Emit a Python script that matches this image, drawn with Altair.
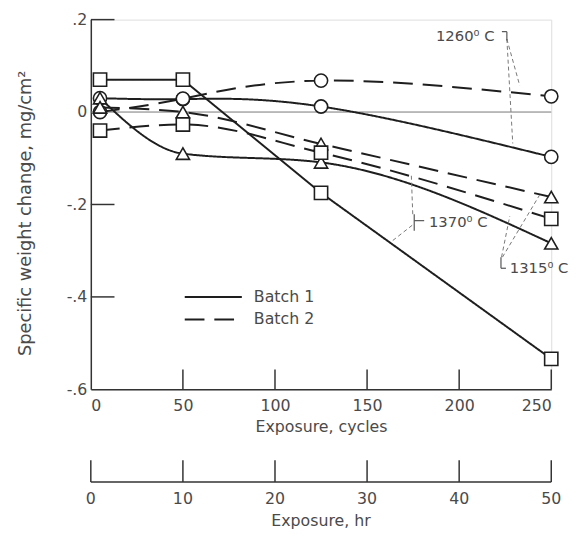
import altair as alt
import pandas as pd

# ---- data ----
cycles = [5, 50, 125, 250]
b1_1260 = [0.03, 0.028, 0.012, -0.097]
b2_1260 = [0.0, 0.029, 0.068, 0.034]
b1_1315 = [0.03, -0.09, -0.109, -0.284]
b2_1315 = [0.01, 0.0, -0.069, -0.184]
b1_1370 = [0.07, 0.07, -0.175, -0.534]
b2_1370 = [-0.04, -0.027, -0.088, -0.231]

batches = ["Batch 1", "Batch 2"]
temps = ["1260", "1315", "1370"]

y_ticks = [0.2, 0.0, -0.2, -0.4, -0.6]
y_inner_ticks = [0.2, -0.2, -0.4]
x_ticks = [0, 50, 100, 150, 200, 250]
x_inner_ticks = [50, 100, 150, 200, 250]
hr_ticks = [0, 10, 20, 30, 40, 50]

ann_text = ["1260\u2070 C", "1370\u2070 C", "1315\u2070 C"]
ann_x = [187.4, 183.6, 227.5]
ann_y = [0.164, -0.237, -0.338]

# leader lines (x, y, x2, y2)
lead_x = [225.9, 225.9, 174.8, 174.5, 223.0, 223.5]
lead_y = [0.158, 0.158, -0.221, -0.245, -0.314, -0.314]
lead_x2 = [232.9, 229.1, 174.0, 163.3, 227.5, 243.6]
lead_y2 = [0.057, -0.068, -0.134, -0.280, -0.225, -0.180]

stub_x = [223.2, 225.9, 175.6, 175.6, 222.7, 222.7]
stub_y = [0.174, 0.174, -0.221, -0.235, -0.314, -0.338]
stub_x2 = [225.9, 225.9, 175.6, 181.0, 222.7, 225.4]
stub_y2 = [0.174, 0.155, -0.257, -0.235, -0.338, -0.338]

# legend placement (data units)
leg_x = [51.0, 51.0]
leg_x2 = [82.0, 82.0]
leg_y = [-0.400, -0.449]
leg_tx = [88.5, 88.5]

# ---- build tables ----
series = {
    ("Batch 1", "1260"): b1_1260,
    ("Batch 2", "1260"): b2_1260,
    ("Batch 1", "1315"): b1_1315,
    ("Batch 2", "1315"): b2_1315,
    ("Batch 1", "1370"): b1_1370,
    ("Batch 2", "1370"): b2_1370,
}
rows = []
for (b, t), vals in series.items():
    for c, v in zip(cycles, vals):
        rows.append({"cycles": c, "value": v, "batch": b, "temp": t, "series": b + " " + t})
df = pd.DataFrame(rows)

FONT = "DejaVu Sans"
TXT = "#4a4a4a"
INK = "#1e1e1e"

x_scale = alt.Scale(domain=[0, 250], nice=False, zero=False)
y_scale = alt.Scale(domain=[-0.6, 0.2], nice=False, zero=False)

X = alt.X("cycles:Q", scale=x_scale,
          axis=alt.Axis(values=x_ticks, tickSize=0, grid=False, domainColor="#333",
                        domainWidth=1.5, labelPadding=8, labelFontSize=16, labelFont=FONT,
                        labelColor=TXT, title="Exposure, cycles", titleFontSize=16,
                        titleFont=FONT, titleColor=TXT, titleFontWeight="normal",
                        titlePadding=6))
Y = alt.Y("value:Q", scale=y_scale,
          axis=alt.Axis(values=y_ticks, tickSize=0, grid=False, domainColor="#333",
                        domainWidth=1.5, labelPadding=4, labelFontSize=16, labelFont=FONT,
                        labelColor=TXT,
                        labelExpr="datum.value == 0 ? '0' : replace(replace(format(datum.value, '.1f'), '0.', '.'), '\u2212', '-')",
                        title="Specific weight change, mg/cm\u00b2", titleFontSize=18,
                        titleFont=FONT, titleColor=TXT, titleFontWeight="normal",
                        titleAngle=270, titleAlign="center", titleBaseline="middle",
                        titleX=-66, titleY=196))

dash_scale = alt.Scale(domain=batches, range=[[1, 0], [20, 10]])

base = alt.Chart(df)

natural = base.transform_filter(alt.FieldOneOfPredicate(field="temp", oneOf=["1260"])).mark_line(
    interpolate="natural", color=INK, strokeWidth=2).encode(
    x=X, y=Y, detail="series:N", strokeDash=alt.StrokeDash("batch:N", scale=dash_scale, legend=None))
mono = base.transform_filter(
    alt.FieldOneOfPredicate(field="series", oneOf=["Batch 1 1315", "Batch 2 1315", "Batch 2 1370"])
).mark_line(interpolate="monotone", color=INK, strokeWidth=2).encode(
    x="cycles:Q", y="value:Q", detail="series:N",
    strokeDash=alt.StrokeDash("batch:N", scale=dash_scale, legend=None))
linear = base.transform_filter(alt.FieldEqualPredicate(field="series", equal="Batch 1 1370")).mark_line(
    color=INK, strokeWidth=2).encode(x="cycles:Q", y="value:Q", detail="series:N",
                                     strokeDash=alt.StrokeDash("batch:N", scale=dash_scale, legend=None))

points = base.mark_point(filled=True, fill="white", stroke=INK, strokeWidth=1.6, size=180, opacity=1).encode(
    x="cycles:Q", y="value:Q",
    shape=alt.Shape("temp:N", scale=alt.Scale(domain=temps, range=["circle", "triangle-up", "square"]),
                    legend=None))

zero = alt.Chart(pd.DataFrame({"x0": [0], "x1": [250], "y": [0.0]})).mark_rule(
    color="#777", strokeWidth=1).encode(x="x0:Q", x2="x1:Q", y="y:Q")

ytick = alt.Chart(pd.DataFrame({"v": y_inner_ticks})).mark_rule(color="#333", strokeWidth=1.5).encode(
    y="v:Q", x=alt.value(0), x2=alt.value(24))
xtick = alt.Chart(pd.DataFrame({"v": x_inner_ticks})).mark_rule(color="#333", strokeWidth=1.5).encode(
    x="v:Q", y=alt.value(355), y2=alt.value(375))

# legend drawn by hand
leg_df = pd.DataFrame({"batch": batches, "x": leg_x, "x2": leg_x2, "y": leg_y, "tx": leg_tx})
leg_lines = alt.Chart(leg_df).mark_rule(color=INK, strokeWidth=2).encode(
    x="x:Q", x2="x2:Q", y="y:Q", strokeDash=alt.StrokeDash("batch:N", scale=dash_scale, legend=None))
leg_text = alt.Chart(leg_df).mark_text(font=FONT, fontSize=16, color=TXT, align="left",
                                       baseline="middle").encode(x="tx:Q", y="y:Q", text="batch:N")

# second (hours) axis
hr_df = pd.DataFrame({"hr": hr_ticks})
hr_base = alt.Chart(hr_df).transform_calculate(cyc="datum.hr * 5")
hr_line = hr_base.mark_rule(color="#333", strokeWidth=1.5).encode(
    x="min(cyc):Q", x2="max(cyc):Q", y=alt.value(469))
hr_tk = hr_base.mark_rule(color="#333", strokeWidth=1.5).encode(
    x="cyc:Q", y=alt.value(447), y2=alt.value(469))
hr_lab = hr_base.mark_text(font=FONT, fontSize=16, color=TXT, baseline="middle").encode(
    x="cyc:Q", y=alt.value(486), text="hr:Q")
hr_title = alt.Chart(pd.DataFrame({"t": ["Exposure, hr"], "x": [125]})).mark_text(
    font=FONT, fontSize=16, color=TXT, baseline="middle").encode(x="x:Q", y=alt.value(509), text="t:N")

# annotations
ann = alt.Chart(pd.DataFrame({"t": ann_text, "x": ann_x, "y": ann_y})).mark_text(
    font=FONT, fontSize=15, color=TXT, align="left", baseline="middle").encode(x="x:Q", y="y:Q", text="t:N")
leads = alt.Chart(pd.DataFrame({"x": lead_x, "y": lead_y, "x2": lead_x2, "y2": lead_y2})).mark_rule(
    color="#777", strokeWidth=1, strokeDash=[4, 3]).encode(x="x:Q", y="y:Q", x2="x2:Q", y2="y2:Q")
stubs = alt.Chart(pd.DataFrame({"x": stub_x, "y": stub_y, "x2": stub_x2, "y2": stub_y2})).mark_rule(
    color="#555", strokeWidth=1.2).encode(x="x:Q", y="y:Q", x2="x2:Q", y2="y2:Q")

chart = alt.layer(
    zero, ytick, xtick, natural, mono, linear, points, leads, stubs, ann,
    leg_lines, leg_text, hr_line, hr_tk, hr_lab, hr_title
).properties(
    width=467, height=375,
    autosize=alt.AutoSizeParams(type="none"),
    padding={"left": 84, "top": 8, "right": 18, "bottom": 147},
).configure_view(stroke=None).configure(background="white")

chart.save("out.html", embed_options={"renderer": "svg", "actions": False})
